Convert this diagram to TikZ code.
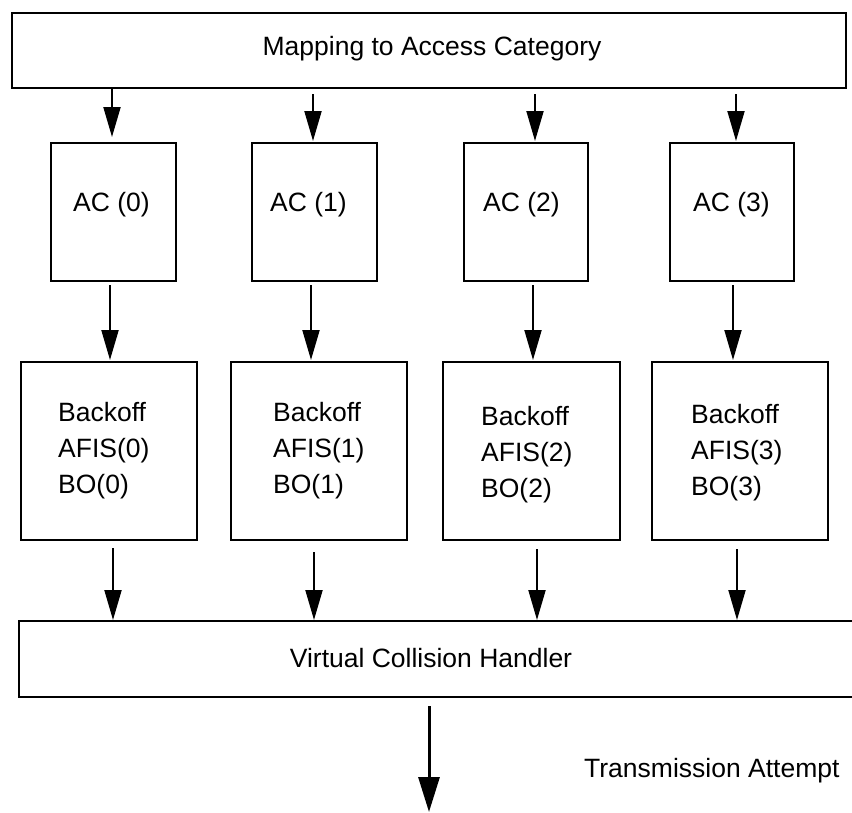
\documentclass[tikz,border=0pt]{standalone}
\usepackage{fontspec}
\setmainfont{Liberation Sans}
\usetikzlibrary{arrows.meta}
\begin{document}
\begin{tikzpicture}[x=1pt,y=-1pt,
  box/.style={draw=black, line width=2pt, inner sep=0pt},
  txt/.style={inner sep=0pt, font=\fontsize{26.5}{36}\selectfont, align=left},
  arr/.style={line width=2pt, -{Triangle[width=17pt,length=30pt]}},
  bigarr/.style={line width=3pt, -{Triangle[width=21pt,length=35pt]}}]
\clip (0,0) rectangle (852,812);
\fill[white] (0,0) rectangle (852,812);
% top box
\node[box, minimum width=834pt, minimum height=75pt] (top) at (429,50.5) {};
\node[txt, anchor=base] (topt) at (432,55) {Mapping to Access Category};
% AC boxes
\node[box, minimum width=125pt, minimum height=138pt] (ac0) at (113.5,212) {};
\node[box, minimum width=125pt, minimum height=138pt] (ac1) at (314.5,212) {};
\node[box, minimum width=124pt, minimum height=138pt] (ac2) at (526,212) {};
\node[box, minimum width=124pt, minimum height=138pt] (ac3) at (732,212) {};
\node[txt, anchor=base west] (ac0t) at (73,211) {AC (0)};
\node[txt, anchor=base west] (ac1t) at (270,211) {AC (1)};
\node[txt, anchor=base west] (ac2t) at (483,211) {AC (2)};
\node[txt, anchor=base west] (ac3t) at (693,211) {AC (3)};
% Backoff boxes
\node[box, minimum width=176pt, minimum height=178pt] (bo0) at (109,451) {};
\node[box, minimum width=176pt, minimum height=178pt] (bo1) at (319,451) {};
\node[box, minimum width=177pt, minimum height=178pt] (bo2) at (531.5,451) {};
\node[box, minimum width=176pt, minimum height=178pt] (bo3) at (740,451) {};
\node[txt, anchor=base west] (bo0t) at (58,493) {Backoff\\AFIS(0)\\BO(0)};
\node[txt, anchor=base west] (bo1t) at (273,493) {Backoff\\AFIS(1)\\BO(1)};
\node[txt, anchor=base west] (bo2t) at (481,497) {Backoff\\AFIS(2)\\BO(2)};
\node[txt, anchor=base west] (bo3t) at (691,495) {Backoff\\AFIS(3)\\BO(3)};
% bottom box
\node[box, minimum width=860pt, minimum height=76pt] (vch) at (449,659) {};
\node[txt, anchor=base] (vcht) at (431,667) {Virtual Collision Handler};
% arrow x positions
\coordinate (xa0) at (112,0);  \coordinate (xa1) at (313,0);
\coordinate (xa2) at (535,0);  \coordinate (xa3) at (736,0);
\coordinate (xb0) at (110,0);  \coordinate (xb1) at (311,0);
\coordinate (xb2) at (533,0);  \coordinate (xb3) at (733,0);
\coordinate (xc0) at (113,0);  \coordinate (xc1) at (314,0);
\coordinate (xc2) at (537,0);  \coordinate (xc3) at (737,0);
% top -> AC
\draw[arr] (top.south -| xa0) -- ([yshift=5pt]ac0.north -| xa0);
\draw[arr] ([yshift=-5pt]top.south -| xa1) -- ([yshift=1pt]ac1.north -| xa1);
\draw[arr] ([yshift=-5pt]top.south -| xa2) -- ([yshift=1pt]ac2.north -| xa2);
\draw[arr] ([yshift=-5pt]top.south -| xa3) -- ([yshift=1pt]ac3.north -| xa3);
% AC -> Backoff
\draw[arr] ([yshift=-3pt]ac0.south -| xb0) -- ([yshift=1pt]bo0.north -| xb0);
\draw[arr] ([yshift=-3pt]ac1.south -| xb1) -- ([yshift=1pt]bo1.north -| xb1);
\draw[arr] ([yshift=-3pt]ac2.south -| xb2) -- ([yshift=1pt]bo2.north -| xb2);
\draw[arr] ([yshift=-3pt]ac3.south -| xb3) -- ([yshift=1pt]bo3.north -| xb3);
% Backoff -> VCH
\draw[arr] ([yshift=-7pt]bo0.south -| xc0) -- (vch.north -| xc0);
\draw[arr] ([yshift=-11pt]bo1.south -| xc1) -- (vch.north -| xc1);
\draw[arr] ([yshift=-8pt]bo2.south -| xc2) -- (vch.north -| xc2);
\draw[arr] ([yshift=-8pt]bo3.south -| xc3) -- (vch.north -| xc3);
% output
\coordinate (out) at (429,812);
\draw[bigarr] ([yshift=-8pt]vch.south -| out) -- (out);
\node[txt, anchor=base west] (tat) at (584,777) {Transmission Attempt};
\end{tikzpicture}
\end{document}
